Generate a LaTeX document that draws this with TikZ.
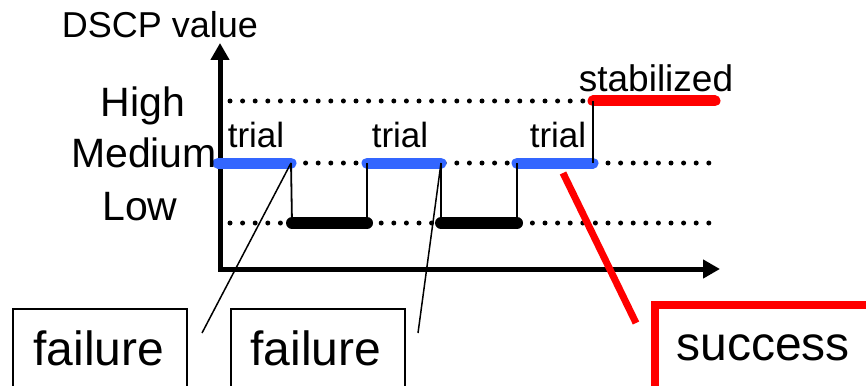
\documentclass[tikz,border=0pt]{standalone}
\usepackage{fontspec}
\setmainfont{Liberation Sans}
\usetikzlibrary{arrows.meta}
\definecolor{segblue}{RGB}{51,102,255}
\begin{document}
\begin{tikzpicture}[x=1pt,y=-1pt,
  dotline/.style={line width=5pt, dash pattern=on 0pt off 12.6pt, line cap=round},
  seg/.style={line width=11pt, line cap=round},
  thinline/.style={line width=1.8pt},
  lbl/.style={inner sep=0pt, anchor=base},
  fbox/.style={draw, line width=1.5pt, minimum width=174pt, minimum height=110pt, anchor=north west, inner sep=0pt},
  sbox/.style={draw=red, line width=8pt, minimum width=240pt, minimum height=110pt, anchor=north west, inner sep=0pt},
  axis/.style={line width=5pt, line join=miter, {Triangle[length=17pt,width=18pt]}-{Triangle[length=17pt,width=18pt]}}
]
\useasboundingbox (0,0) rectangle (866,385);

% coordinates
\coordinate (ytip) at (220,43);
\coordinate (orig) at (220,269);
\coordinate (xtip) at (720,269);
\coordinate (m0) at (218,163);
\coordinate (m1) at (291,163);
\coordinate (l1) at (292,223);
\coordinate (m2) at (367,163);
\coordinate (l2) at (367,223);
\coordinate (m3) at (441,163);
\coordinate (l3) at (441,223);
\coordinate (m4) at (517,163);
\coordinate (l4) at (517,223);
\coordinate (m5) at (593,163);
\coordinate (h5) at (593,101);
\coordinate (h6) at (715,101);
\coordinate (c1) at (202,333);
\coordinate (c2) at (418,333);
\coordinate (r1) at (563,173);
\coordinate (r2) at (636,323);

% dotted level lines
\draw[dotline] (230,101) -- (587,101);
\draw[dotline] (230,163) -- (713,163);
\draw[dotline] (230,223) -- (715,223);

% axes
\draw[axis] (ytip) -- (orig) -- (xtip);

% segments
\draw[seg, segblue] (m0) -- (m1);
\draw[seg, black, line width=12pt] (l1) -- (l2);
\draw[seg, segblue] (m2) -- (m3);
\draw[seg, black, line width=12pt] (l3) -- (l4);
\draw[seg, segblue] (m4) -- (m5);
\draw[seg, red] (h5) -- (h6);

% verticals
\draw[thinline] (m1) -- (l1);
\draw[thinline] (m2) -- (l2);
\draw[thinline] (m3) -- (l3);
\draw[thinline] (m4) -- (l4);
\draw[thinline] (m5) -- (h5);

% labels
\node[lbl, font=\fontsize{36}{36}\selectfont] (ylab) at (160,38) {DSCP value};
\node[lbl, font=\fontsize{41}{41}\selectfont] (high) at (143,117) {High};
\node[lbl, font=\fontsize{41}{41}\selectfont] (med) at (144,167) {Medium};
\node[lbl, font=\fontsize{41}{41}\selectfont] (low) at (140,220) {Low};
\node[lbl, font=\fontsize{35}{35}\selectfont] (t1) at (256,147) {trial};
\node[lbl, font=\fontsize{35}{35}\selectfont] (t2) at (400,147) {trial};
\node[lbl, font=\fontsize{35}{35}\selectfont] (t3) at (558,147) {trial};
\node[lbl, font=\fontsize{37}{37}\selectfont] (stab) at (656,92) {stabilized};

% boxes
\node[fbox] (f1box) at (12,308) {};
\node[fbox] (f2box) at (230,308) {};
\node[sbox] (sbox) at (651,301) {};
\node[lbl, font=\fontsize{48}{48}\selectfont] (f1) at (99,365) {failure};
\node[lbl, font=\fontsize{48}{48}\selectfont] (f2) at (316,365) {failure};
\node[lbl, font=\fontsize{48}{48}\selectfont] (succ) at (763,360) {success};

% pointer lines
\draw[thinline, line width=1.5pt] (m1) -- (c1);
\draw[thinline, line width=1.5pt] (m3) -- (c2);
\draw[line width=7pt, red] (r1) -- (r2);
\end{tikzpicture}
\end{document}
